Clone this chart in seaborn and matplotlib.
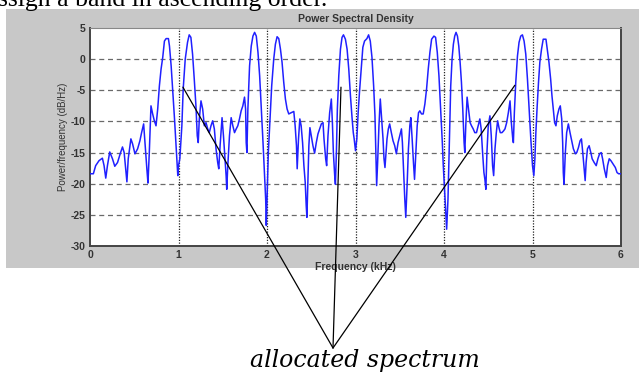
import numpy as np
import pandas as pd
import seaborn as sns
import matplotlib.pyplot as plt
from matplotlib.patches import Rectangle

# PSD readings (kHz, dB/Hz), one pair of lists per 1 kHz band
band0_f = [0, .038, .064, .102, .140, .159, .178, .197, .223, .254, .280, .311, .341, .367, .386, .417, .432,
           .462, .481, .508, .538, .564, .583, .606, .621, .644, .655, .670, .689, .708, .727, .746, .765,
           .784, .803, .822, .841, .860, .886, .898, .917, .936, .955, .970, .985, .992]
band0_db = [-18.4, -18.4, -17.1, -16.3, -15.9, -17.1, -19.1, -17.1, -14.9, -16.0, -17.2, -16.6, -15.2, -14.1,
            -15.0, -19.7, -16.0, -12.8, -13.6, -15.2, -14.4, -13.1, -11.8, -10.4, -13.4, -17.9, -19.9, -15.0,
            -7.5, -8.8, -9.9, -10.7, -8.0, -4.3, -1.6, 0.3, 2.9, 3.3, 3.3, 2.1, -1.1, -5.3, -9.6, -13.4,
            -17.1, -18.7]

band1_f = [1.0, 1.015, 1.038, 1.053, 1.076, 1.102, 1.121, 1.140, 1.159, 1.178, 1.197, 1.212, 1.223, 1.235,
           1.254, 1.273, 1.292, 1.311, 1.330, 1.348, 1.367, 1.386, 1.405, 1.424, 1.443, 1.455, 1.470, 1.492,
           1.508, 1.523, 1.538, 1.545, 1.557, 1.576, 1.595, 1.614, 1.633, 1.652, 1.670, 1.689, 1.708, 1.727,
           1.746, 1.758, 1.765, 1.773, 1.784, 1.803, 1.822, 1.841, 1.860, 1.879, 1.898, 1.917, 1.936, 1.955,
           1.973, 1.985, 1.992]
band1_db = [-17.1, -16.0, -10.7, -4.8, 0, 2.7, 3.9, 3.5, 0.8, -3.2, -7.5, -12.3, -13.4, -9.6, -6.7, -8.0,
            -10.7, -10.2, -11.2, -11.8, -10.7, -9.9, -11.2, -14.4, -16.6, -17.6, -13.9, -9.4, -12.3, -15.5,
            -18.7, -20.9, -17.1, -12.3, -9.4, -10.7, -11.8, -11.2, -10.7, -9.6, -8.3, -7.5, -6.1, -8.0, -13.4,
            -15.0, -8.0, -1.1, 2.1, 3.7, 4.3, 3.7, 1.1, -2.7, -8.0, -13.4, -18.7, -22.5, -26.7]

band2_f = [2.0, 2.008, 2.015, 2.038, 2.053, 2.076, 2.095, 2.114, 2.133, 2.152, 2.170, 2.189, 2.208, 2.227,
           2.246, 2.273, 2.303, 2.318, 2.333, 2.341, 2.356, 2.371, 2.386, 2.402, 2.417, 2.432, 2.443, 2.451,
           2.462, 2.473, 2.485, 2.5, 2.519, 2.538, 2.557, 2.576, 2.595, 2.614, 2.633, 2.644, 2.663, 2.674,
           2.689, 2.708, 2.727, 2.739, 2.750, 2.765, 2.773, 2.784, 2.795, 2.811, 2.830, 2.848, 2.864, 2.886,
           2.905, 2.924, 2.943, 2.962, 2.975, 2.985]
band2_db = [-22.5, -18.7, -15.0, -8.6, -4.3, 0, 2.4, 3.6, 3.3, 1.6, -0.5, -3.7, -6.4, -8.0, -8.8, -8.6, -8.4,
            -10.7, -13.9, -17.6, -12.8, -9.6, -10.7, -13.4, -17.1, -19.8, -23.5, -25.4, -19.8, -13.9, -11.0,
            -12.3, -13.9, -15.1, -13.4, -12.0, -11.2, -10.4, -10.2, -12.8, -16.0, -17.1, -12.3, -8.6, -6.4,
            -10.2, -15.0, -18.7, -20.1, -15.0, -8.0, -2.7, 1.6, 3.5, 3.9, 3.2, 1.6, -1.6, -5.9, -9.6, -11.8,
            -12.8]

band3_f = [3.0, 3.015, 3.030, 3.045, 3.064, 3.083, 3.102, 3.129, 3.148, 3.167, 3.186, 3.205, 3.220, 3.231,
           3.239, 3.250, 3.265, 3.280, 3.295, 3.311, 3.322, 3.333, 3.345, 3.356, 3.371, 3.386, 3.405, 3.424,
           3.443, 3.462, 3.481, 3.5, 3.519, 3.530, 3.545, 3.557, 3.568, 3.583, 3.598, 3.614, 3.625, 3.640,
           3.655, 3.667, 3.682, 3.697, 3.712, 3.727, 3.746, 3.765, 3.784, 3.803, 3.822, 3.841, 3.860, 3.886,
           3.905, 3.924, 3.943, 3.962, 3.981, 3.992]
band3_db = [-14.7, -12.8, -8.6, -5.3, -1.6, 1.9, 2.9, 3.3, 3.9, 2.9, 0.3, -4.3, -9.1, -16.0, -20.3, -16.6,
            -10.7, -6.4, -9.6, -12.8, -16.0, -17.4, -15.0, -12.8, -11.2, -10.4, -11.8, -13.1, -13.9, -15.2,
            -13.4, -12.3, -11.2, -13.4, -18.7, -22.5, -25.4, -20.3, -14.4, -10.7, -9.4, -12.8, -16.6, -19.3,
            -15.0, -10.7, -8.6, -8.3, -8.8, -8.8, -7.2, -4.8, -1.6, 1.1, 3.2, 3.7, 3.5, 1.1, -2.7, -8.0,
            -13.4, -17.1]

band4_f = [4.0, 4.015, 4.030, 4.045, 4.061, 4.076, 4.091, 4.106, 4.121, 4.136, 4.152, 4.167, 4.182, 4.197,
           4.212, 4.227, 4.235, 4.246, 4.261, 4.277, 4.295, 4.311, 4.330, 4.348, 4.367, 4.386, 4.405, 4.420,
           4.436, 4.451, 4.462, 4.473, 4.485, 4.5, 4.519, 4.534, 4.549, 4.561, 4.576, 4.591, 4.606, 4.621,
           4.636, 4.655, 4.674, 4.689, 4.708, 4.727, 4.746, 4.761, 4.777, 4.784, 4.795, 4.811, 4.830, 4.848,
           4.867, 4.886, 4.905, 4.924, 4.943, 4.962, 4.981]
band4_db = [-19.3, -23.5, -27.3, -22.5, -13.1, -4.3, 0, 2.4, 3.7, 4.3, 3.7, 2.1, -0.5, -3.7, -8.0, -13.4,
            -15.0, -10.7, -6.1, -8.0, -10.2, -10.7, -11.2, -11.8, -11.8, -10.7, -9.6, -11.2, -15.0, -18.2,
            -19.3, -20.9, -15.0, -10.7, -9.1, -12.3, -17.1, -18.7, -14.4, -11.8, -9.9, -11.0, -11.8, -11.8,
            -11.5, -11.2, -10.2, -8.6, -6.7, -10.2, -12.8, -13.4, -8.6, -3.7, 0.5, 2.7, 3.7, 3.9, 2.9, 0.8,
            -3.2, -8.0, -12.8]

band5_f = [5.0, 5.015, 5.027, 5.038, 5.053, 5.068, 5.083, 5.102, 5.121, 5.152, 5.167, 5.186, 5.205, 5.220,
           5.235, 5.250, 5.265, 5.280, 5.299, 5.314, 5.330, 5.341, 5.348, 5.356, 5.371, 5.386, 5.405, 5.424,
           5.443, 5.462, 5.485, 5.5, 5.519, 5.538, 5.553, 5.568, 5.583, 5.595, 5.606, 5.621, 5.640, 5.659,
           5.674, 5.697, 5.720, 5.739, 5.758, 5.777, 5.792, 5.811, 5.833, 5.848, 5.867, 5.886, 5.909, 5.936,
           5.955, 5.973, 6.0]
band5_db = [-17.1, -18.7, -16.0, -11.8, -7.5, -3.7, -0.5, 1.6, 3.2, 3.2, 1.6, -0.5, -3.2, -5.9, -8.0, -10.2,
            -10.7, -9.1, -8.0, -7.5, -9.6, -13.4, -18.2, -20.1, -15.0, -11.8, -10.4, -11.8, -13.1, -14.4,
            -15.2, -15.0, -14.2, -13.1, -12.8, -15.0, -17.6, -19.5, -16.6, -14.4, -13.9, -15.0, -16.0, -16.6,
            -17.1, -16.0, -15.2, -15.0, -16.0, -17.6, -19.0, -17.1, -16.0, -16.3, -16.8, -17.4, -18.2, -18.4,
            -18.4]

x_ticks = [0, 1, 2, 3, 4, 5, 6]
y_ticks = [-30, -25, -20, -15, -10, -5, 0, 5]
# tips of the three "allocated spectrum" pointer lines (kHz, dB)
pointer_f = [1.05, 2.836, 4.80]
pointer_db = [-4.5, -4.5, -4.2]

df = pd.DataFrame({
    "freq": band0_f + band1_f + band2_f + band3_f + band4_f + band5_f,
    "psd": band0_db + band1_db + band2_db + band3_db + band4_db + band5_db,
})

sns.set_style("white")
plt.rcParams['font.family'] = ['Liberation Sans', 'DejaVu Sans']
plt.rcParams['axes.unicode_minus'] = False

W, H = 639, 373
fig = plt.figure(figsize=(W / 100, H / 100), dpi=100)
fig.patch.set_facecolor("white")

# matlab-style gray figure panel
fig.add_artist(Rectangle((6 / W, 1 - 268 / H), (W - 6) / W, (268 - 9) / H,
                         transform=fig.transFigure, facecolor="#c8c8c8", edgecolor="none", zorder=0))

ax = fig.add_axes([90 / W, 1 - 246 / H, 531 / W, 218 / H])
ax.set_facecolor("white")
ax.set_zorder(1)

sns.lineplot(data=df, x="freq", y="psd", ax=ax, color="#2020ff", lw=1.1, sort=False, zorder=3)

ax.set_xlim(0, 6)
ax.set_ylim(-30, 5)
ax.set_xticks(x_ticks)
ax.set_yticks(y_ticks)
ax.tick_params(direction="in", length=3, width=0.6, colors="#333333", labelsize=7.5, pad=3)
for lab in ax.get_xticklabels() + ax.get_yticklabels():
    lab.set_fontweight("bold")

for y in y_ticks[1:-1]:
    ax.axhline(y, color="#6a6a6a", lw=0.9, ls=(0, (4, 3)), zorder=1)
for x in x_ticks[1:-1]:
    ax.axvline(x, color="#222222", lw=0.9, ls=(0, (1, 1.2)), zorder=1)

for side in ["left", "bottom", "right"]:
    ax.spines[side].set_color("#444444")
    ax.spines[side].set_linewidth(1.4)
ax.spines["top"].set_color("#888888")
ax.spines["top"].set_linewidth(0.8)

ax.set_title("Power Spectral Density", fontsize=7.5, fontweight="bold", color="#333333", pad=4)
ax.set_xlabel("Frequency (kHz)", fontsize=7.5, fontweight="bold", color="#333333", labelpad=1)
ax.set_ylabel("Power/frequency (dB/Hz)", fontsize=7, color="#333333", labelpad=2)

# pointer lines converging below the plot
tip = (333 / W, 1 - 348 / H)
for f, d in zip(pointer_f, pointer_db):
    ax.annotate("", xy=(f, d), xycoords="data", xytext=tip, textcoords="figure fraction",
                arrowprops=dict(arrowstyle="-", color="black", lw=0.9, shrinkA=0, shrinkB=0),
                annotation_clip=False, zorder=5)

fig.text(365 / W, 1 - 367 / H, "allocated spectrum", family="DejaVu Serif", style="italic",
         fontsize=17, color="black", ha="center", va="baseline")
fig.text(-2 / W, 1 - 6 / H, "ssign a band in ascending order.", family="Liberation Serif",
         fontsize=18.5, color="black", ha="left", va="baseline")

fig.savefig("out.png", dpi=100)
